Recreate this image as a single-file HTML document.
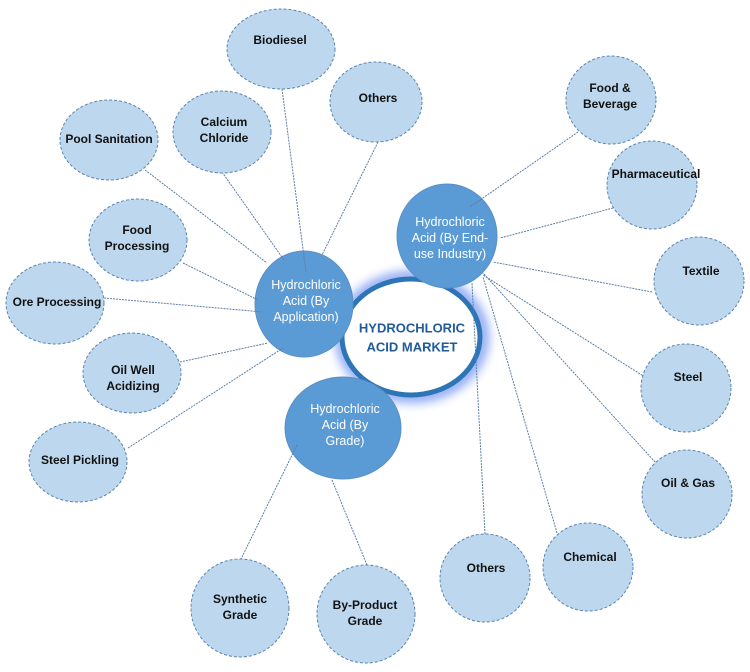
<!DOCTYPE html>
<html><head><meta charset="utf-8"><style>
html,body{margin:0;padding:0;background:#fff;}
svg{display:block;}
.n{fill:#bdd7ee;stroke:#5b84b1;stroke-width:1;stroke-dasharray:3 2;}
.t{font-family:"Liberation Sans",Arial,sans-serif;font-weight:bold;font-size:12px;fill:#111;text-anchor:middle;dominant-baseline:central;}
.h{fill:#5b9bd5;stroke:#5a8fc6;stroke-width:1;}
.w{font-family:"Liberation Sans",Arial,sans-serif;font-size:12.5px;fill:#fff;text-anchor:middle;dominant-baseline:central;}
.l{stroke:#5b7fa8;stroke-width:1;stroke-dasharray:2 1;fill:none;}
</style></head><body>
<svg width="750" height="672" viewBox="0 0 750 672" xmlns="http://www.w3.org/2000/svg">
<defs>
<filter id="g" x="-30%" y="-30%" width="160%" height="160%"><feGaussianBlur stdDeviation="5"/></filter>
</defs>
<rect width="750" height="672" fill="#fff"/>
<!-- central glow + ring -->
<ellipse cx="412" cy="337" rx="71" ry="60" fill="none" stroke="#5a82ee" stroke-width="12" opacity="0.7" filter="url(#g)"/>
<ellipse cx="411" cy="337" rx="69" ry="58" fill="#fff" stroke="#2e75b6" stroke-width="5"/>
<text class="t" x="412" y="328" style="font-size:13px;fill:#1f5a9a">HYDROCHLORIC</text>
<text class="t" x="412" y="347" style="font-size:13px;fill:#1f5a9a">ACID MARKET</text>
<!-- hubs -->
<ellipse class="h" cx="304" cy="304" rx="49" ry="53"/>
<text class="w" x="306" y="285">Hydrochloric</text>
<text class="w" x="306" y="301">Acid (By</text>
<text class="w" x="306" y="317">Application)</text>
<ellipse class="h" cx="447" cy="236" rx="50" ry="52"/>
<text class="w" x="450" y="222">Hydrochloric</text>
<text class="w" x="450" y="238">Acid (By End-</text>
<text class="w" x="450" y="254">use Industry)</text>
<ellipse class="h" cx="343" cy="428" rx="58" ry="51"/>
<text class="w" x="345" y="409">Hydrochloric</text>
<text class="w" x="345" y="425">Acid (By</text>
<text class="w" x="345" y="441">Grade)</text>
<!-- connectors -->
<line class="l" x1="282" y1="89" x2="306" y2="272"/>
<line class="l" x1="378" y1="142" x2="322" y2="255"/>
<line class="l" x1="222" y1="172" x2="284" y2="260"/>
<line class="l" x1="145" y1="170" x2="267" y2="263"/>
<line class="l" x1="183" y1="263" x2="258" y2="300"/>
<line class="l" x1="104" y1="298" x2="263" y2="312"/>
<line class="l" x1="180" y1="362" x2="268" y2="343"/>
<line class="l" x1="128" y1="448" x2="283" y2="348"/>
<line class="l" x1="578" y1="132" x2="470" y2="207"/>
<line class="l" x1="613" y1="208" x2="500" y2="238"/>
<line class="l" x1="652" y1="292" x2="493" y2="262"/>
<line class="l" x1="645" y1="377" x2="483" y2="275"/>
<line class="l" x1="655" y1="462" x2="483" y2="273"/>
<line class="l" x1="557" y1="533" x2="483" y2="277"/>
<line class="l" x1="485" y1="534" x2="472" y2="283"/>
<line class="l" x1="297" y1="445" x2="241" y2="559"/>
<line class="l" x1="332" y1="480" x2="367" y2="565"/>
<!-- leaf nodes -->
<ellipse class="n" cx="281" cy="49" rx="54" ry="40"/><text class="t" x="280" y="40">Biodiesel</text>
<ellipse class="n" cx="376" cy="102" rx="46" ry="40"/><text class="t" x="378" y="98">Others</text>
<ellipse class="n" cx="222" cy="132" rx="49" ry="41"/><text class="t" x="224" y="122">Calcium</text><text class="t" x="224" y="138">Chloride</text>
<ellipse class="n" cx="109" cy="140" rx="49" ry="40"/><text class="t" x="109" y="139">Pool Sanitation</text>
<ellipse class="n" cx="138" cy="240" rx="49" ry="41"/><text class="t" x="137" y="230">Food</text><text class="t" x="137" y="246">Processing</text>
<ellipse class="n" cx="55" cy="303" rx="49" ry="41"/><text class="t" x="57" y="302">Ore Processing</text>
<ellipse class="n" cx="132" cy="373" rx="49" ry="40"/><text class="t" x="133" y="370">Oil Well</text><text class="t" x="133" y="386">Acidizing</text>
<ellipse class="n" cx="78" cy="462" rx="49" ry="40"/><text class="t" x="80" y="460">Steel Pickling</text>
<ellipse class="n" cx="240" cy="608" rx="49" ry="49"/><text class="t" x="240" y="599">Synthetic</text><text class="t" x="240" y="615">Grade</text>
<ellipse class="n" cx="366" cy="614" rx="49" ry="49"/><text class="t" x="365" y="605">By-Product</text><text class="t" x="365" y="621">Grade</text>
<ellipse class="n" cx="485" cy="578" rx="45" ry="44"/><text class="t" x="486" y="568">Others</text>
<ellipse class="n" cx="588" cy="567" rx="45" ry="44"/><text class="t" x="590" y="557">Chemical</text>
<ellipse class="n" cx="687" cy="494" rx="45" ry="44"/><text class="t" x="688" y="483">Oil &amp; Gas</text>
<ellipse class="n" cx="686" cy="388" rx="45" ry="44"/><text class="t" x="688" y="377">Steel</text>
<ellipse class="n" cx="699" cy="281" rx="45" ry="44"/><text class="t" x="701" y="271">Textile</text>
<ellipse class="n" cx="652" cy="185" rx="45" ry="44"/><text class="t" x="656" y="174">Pharmaceutical</text>
<ellipse class="n" cx="611" cy="100" rx="45" ry="44"/><text class="t" x="610" y="88">Food &amp;</text><text class="t" x="610" y="104">Beverage</text>
</svg>
</body></html>
